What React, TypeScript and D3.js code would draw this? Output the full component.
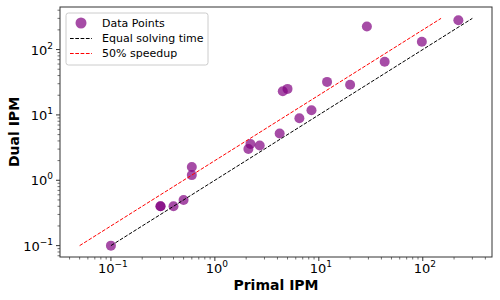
import React, { useRef, useEffect } from 'react';
import * as d3 from 'd3';

// solve times (seconds)
const primalTimes = [0.1, 0.3, 0.3, 0.4, 0.5, 0.6, 0.6, 2.1, 2.2, 2.7, 4.2, 4.5, 5.0, 6.5, 8.5, 12, 20, 29, 43, 98, 220];
const dualTimes = [0.1, 0.4, 0.4, 0.4, 0.5, 1.2, 1.6, 3.0, 3.6, 3.4, 5.2, 23, 25, 8.9, 11.8, 32, 29, 225, 65, 132, 280];

// reference lines
const equalX = [0.1, 300];
const equalY = [0.1, 300];
const speedupX = [0.05, 150];
const speedupY = [0.1, 300];

const xTickExps = [-1, 0, 1, 2];
const yTickExps = [-1, 0, 1, 2];

const legendLabels = ['Data Points', 'Equal solving time', '50% speedup'];

const FONT = 'DejaVu Sans, sans-serif';

const App: React.FC = () => {
    const svgRef = useRef<SVGSVGElement | null>(null);

    useEffect(() => {
        if (!svgRef.current) return;
        const width = 500;
        const height = 300;
        const margin = { top: 7, right: 8, bottom: 43, left: 60 };

        const svg = d3.select(svgRef.current)
            .attr('width', width)
            .attr('height', height);
        svg.selectAll('*').remove();

        // log domain with 5% padding like matplotlib
        const padLog = (vals: number[]) => {
            const lo = Math.log10(d3.min(vals) as number);
            const hi = Math.log10(d3.max(vals) as number);
            const p = (hi - lo) * 0.05;
            return [Math.pow(10, lo - p), Math.pow(10, hi + p)];
        };

        const xScale = d3.scaleLog()
            .domain(padLog([...primalTimes, ...equalX, ...speedupX]))
            .range([margin.left, width - margin.right]);
        const yScale = d3.scaleLog()
            .domain(padLog([...dualTimes, ...equalY, ...speedupY]))
            .range([height - margin.bottom, margin.top]);

        const x0 = margin.left, x1 = width - margin.right;
        const y0 = margin.top, y1 = height - margin.bottom;

        // points
        svg.append('g')
            .selectAll('circle')
            .data(primalTimes.map((p, i) => [p, dualTimes[i]]))
            .enter()
            .append('circle')
            .attr('cx', d => xScale(d[0]))
            .attr('cy', d => yScale(d[1]))
            .attr('r', 5)
            .attr('fill', 'purple')
            .attr('fill-opacity', 0.7);

        const line = d3.line<[number, number]>()
            .x(d => xScale(d[0]))
            .y(d => yScale(d[1]));

        svg.append('path')
            .datum(equalX.map((v, i) => [v, equalY[i]] as [number, number]))
            .attr('d', line)
            .attr('fill', 'none')
            .attr('stroke', 'black')
            .attr('stroke-width', 1)
            .attr('stroke-dasharray', '3.7,1.6');

        svg.append('path')
            .datum(speedupX.map((v, i) => [v, speedupY[i]] as [number, number]))
            .attr('d', line)
            .attr('fill', 'none')
            .attr('stroke', 'red')
            .attr('stroke-width', 1)
            .attr('stroke-dasharray', '3.7,1.6');

        // frame
        svg.append('rect')
            .attr('x', x0)
            .attr('y', y0)
            .attr('width', x1 - x0)
            .attr('height', y1 - y0)
            .attr('fill', 'none')
            .attr('stroke', '#333')
            .attr('stroke-width', 1);

        // ticks (major + minor)
        const minorTicks = (scale: d3.ScaleLogarithmic<number, number>) => {
            const [a, b] = scale.domain();
            const out: number[] = [];
            for (let e = Math.floor(Math.log10(a)); e <= Math.ceil(Math.log10(b)); e++) {
                for (let m = 2; m <= 9; m++) {
                    const v = m * Math.pow(10, e);
                    if (v >= a && v <= b) out.push(v);
                }
            }
            return out;
        };

        const ticks = svg.append('g').attr('stroke', '#333');
        xTickExps.forEach(e => {
            const x = xScale(Math.pow(10, e));
            ticks.append('line').attr('x1', x).attr('x2', x).attr('y1', y1).attr('y2', y1 + 4);
        });
        minorTicks(xScale).forEach(v => {
            const x = xScale(v);
            ticks.append('line').attr('x1', x).attr('x2', x).attr('y1', y1).attr('y2', y1 + 2.5).attr('stroke-width', 0.7);
        });
        yTickExps.forEach(e => {
            const y = yScale(Math.pow(10, e));
            ticks.append('line').attr('x1', x0).attr('x2', x0 - 4).attr('y1', y).attr('y2', y);
        });
        minorTicks(yScale).forEach(v => {
            const y = yScale(v);
            ticks.append('line').attr('x1', x0).attr('x2', x0 - 2.5).attr('y1', y).attr('y2', y).attr('stroke-width', 0.7);
        });

        const powLabel = (g: d3.Selection<SVGTextElement, unknown, null, undefined>, e: number) => {
            g.append('tspan').text('10');
            g.append('tspan')
                .attr('font-size', 9)
                .attr('dy', -6)
                .text(e < 0 ? '\u2212' + Math.abs(e) : String(e));
        };

        xTickExps.forEach(e => {
            const t = svg.append('text')
                .attr('x', xScale(Math.pow(10, e)) + 2)
                .attr('y', y1 + 16)
                .attr('text-anchor', 'middle')
                .attr('font-family', FONT)
                .attr('font-size', 13);
            powLabel(t as any, e);
        });
        yTickExps.forEach(e => {
            const t = svg.append('text')
                .attr('x', x0 - 7)
                .attr('y', yScale(Math.pow(10, e)) + 5)
                .attr('text-anchor', 'end')
                .attr('font-family', FONT)
                .attr('font-size', 13);
            powLabel(t as any, e);
        });

        // axis titles
        svg.append('text')
            .attr('x', (x0 + x1) / 2)
            .attr('y', 290)
            .attr('text-anchor', 'middle')
            .attr('font-family', FONT)
            .attr('font-weight', 'bold')
            .attr('font-size', 14)
            .text('Primal IPM');
        svg.append('text')
            .attr('transform', `translate(19, ${(y0 + y1) / 2}) rotate(-90)`)
            .attr('text-anchor', 'middle')
            .attr('font-family', FONT)
            .attr('font-weight', 'bold')
            .attr('font-size', 14)
            .text('Dual IPM');

        // legend
        const lg = svg.append('g').attr('transform', 'translate(66, 13)');
        lg.append('rect')
            .attr('width', 142)
            .attr('height', 52)
            .attr('rx', 2.5)
            .attr('fill', 'white')
            .attr('fill-opacity', 0.8)
            .attr('stroke', '#ccc')
            .attr('stroke-width', 1);
        lg.append('circle')
            .attr('cx', 15)
            .attr('cy', 10)
            .attr('r', 5.5)
            .attr('fill', 'purple')
            .attr('fill-opacity', 0.7);
        lg.append('line')
            .attr('x1', 4).attr('x2', 26).attr('y1', 25.5).attr('y2', 25.5)
            .attr('stroke', 'black').attr('stroke-dasharray', '3.7,1.6');
        lg.append('line')
            .attr('x1', 4).attr('x2', 26).attr('y1', 40.5).attr('y2', 40.5)
            .attr('stroke', 'red').attr('stroke-dasharray', '3.7,1.6');
        legendLabels.forEach((label, i) => {
            lg.append('text')
                .attr('x', 36)
                .attr('y', 13.8 + i * 15.3)
                .attr('font-family', FONT)
                .attr('font-size', 11)
                .text(label);
        });
    }, []);

    return (
        <div style={{ position: 'absolute', left: 0, top: 0 }}>
            <svg ref={svgRef}></svg>
        </div>
    );
};

export default App;
